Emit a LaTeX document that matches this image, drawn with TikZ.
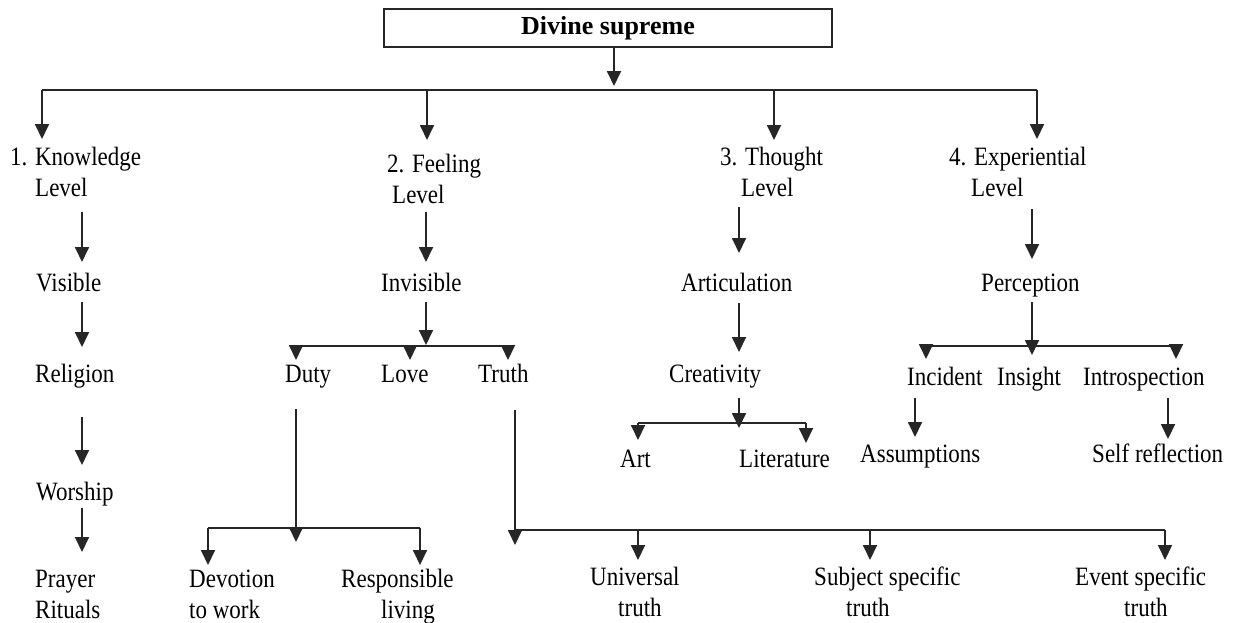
\documentclass[tikz,border=0pt]{standalone}
\usepackage{fontspec}
\setmainfont{Liberation Serif}
\usetikzlibrary{arrows.meta}
\newcommand\lbl[1]{\scalebox{1}[1.15]{\begin{tabular}[t]{@{}l@{}}#1\end{tabular}}}
\tikzset{
  arr/.style={line width=1.8pt, draw=black!85, -{Triangle[length=15pt,width=14pt]}},
  ln/.style={line width=1.8pt, draw=black!85},
  lab/.style={anchor=base west, inner sep=0pt, font=\fontsize{23}{27}\selectfont},
  topbox/.style={draw=black!85, line width=1.8pt, minimum width=448pt, minimum height=38pt, inner sep=0pt, font=\bfseries\fontsize{26}{30}\selectfont}
}
\begin{document}
\begin{tikzpicture}[x=1pt,y=-1pt]
\useasboundingbox[fill=white] (0,0) rectangle (1233,622);

% nodes
\node[topbox] (top) at (608,28) {Divine supreme};
\node[lab] (kl) at (10,165) {\lbl{1. Knowledge\\\hspace*{25pt}Level}};
\node[lab] (fl) at (387,172) {\lbl{2. Feeling\\\hspace*{5pt}Level}};
\node[lab] (tl) at (720,165) {\lbl{3. Thought\\\hspace*{21pt}Level}};
\node[lab] (el) at (949,165) {\lbl{4. Experiential\\\hspace*{22pt}Level}};
\node[lab] (vis) at (36,291) {\lbl{Visible}};
\node[lab] (inv) at (381,291) {\lbl{Invisible}};
\node[lab] (artic) at (681,291) {\lbl{Articulation}};
\node[lab] (per) at (981,291) {\lbl{Perception}};
\node[lab] (rel) at (35,382) {\lbl{Religion}};
\node[lab] (duty) at (285,382) {\lbl{Duty}};
\node[lab] (love) at (381,382) {\lbl{Love}};
\node[lab] (truth) at (478,382) {\lbl{Truth}};
\node[lab] (cre) at (669,382) {\lbl{Creativity}};
\node[lab] (inc) at (907,385) {\lbl{Incident}};
\node[lab] (ins) at (997,385) {\lbl{Insight}};
\node[lab] (intr) at (1083,385) {\lbl{Introspection}};
\node[lab] (wor) at (36,500) {\lbl{Worship}};
\node[lab] (artn) at (620,467) {\lbl{Art}};
\node[lab] (lit) at (739,467) {\lbl{Literature}};
\node[lab] (ass) at (860,462) {\lbl{Assumptions}};
\node[lab] (self) at (1092,462) {\lbl{Self reflection}};
\node[lab] (pr) at (35,587) {\lbl{Prayer\\Rituals}};
\node[lab] (dev) at (189,587) {\lbl{Devotion\\to work}};
\node[lab] (resp) at (341,587) {\lbl{Responsible\\\hspace*{40pt}living}};
\node[lab] (univ) at (590,585) {\lbl{Universal\\\hspace*{28pt}truth}};
\node[lab] (subj) at (814,585) {\lbl{Subject specific\\\hspace*{32pt}truth}};
\node[lab] (event) at (1075,585) {\lbl{Event specific\\\hspace*{49pt}truth}};

% junction coordinates
\coordinate (j0) at (614,90);
\coordinate (j0l) at (42,90);
\coordinate (j0r) at (1037,90);
\coordinate (jf) at (426,346);
\coordinate (jfl) at (296,346);
\coordinate (jfr) at (508,346);
\coordinate (jt) at (739,423);
\coordinate (jtl) at (638,423);
\coordinate (jtr) at (806,423);
\coordinate (je) at (1032,346);
\coordinate (jel) at (926,346);
\coordinate (jer) at (1176,346);
\coordinate (jd) at (296,528);
\coordinate (jdl) at (208,528);
\coordinate (jdr) at (420,528);
\coordinate (jtr2) at (515,530);
\coordinate (jtrr) at (1165,530);

% top level
\draw[arr] ([xshift=6pt]top.south) -- ([yshift=4pt]j0);
\draw[ln] (j0l) -- (j0r);
\draw[arr] (j0l) -- (42,139);
\draw[arr] (427,90) -- (427,140);
\draw[arr] (774,90) -- (774,140);
\draw[arr] (j0r) -- (1037,139);

% knowledge column
\draw[arr] (82,212) -- (82,262);
\draw[arr] (82,302) -- (82,347);
\draw[arr] (82,417) -- (82,465);
\draw[arr] (82,508) -- (82,552);

% feeling column
\draw[arr] (426,212) -- (426,262);
\draw[arr] (426,302) -- ([yshift=1pt]jf);
\draw[ln] (jfl) -- (jfr);
\draw[arr] (jfl) -- (296,360);
\draw[arr] (410,346) -- (410,360);
\draw[arr] (jfr) -- (508,360);

% duty branch
\draw[arr] (296,409) -- (296,542);
\draw[ln] (jdl) -- (jdr);
\draw[arr] (jdl) -- (208,565);
\draw[arr] (jdr) -- (420,565);

% truth branch
\draw[arr] (515,410) -- (515,545);
\draw[ln] (jtr2) -- (jtrr);
\draw[arr] (638,530) -- (638,560);
\draw[arr] (870,530) -- (870,560);
\draw[arr] (jtrr) -- (1165,560);

% thought column
\draw[arr] (739,207) -- (739,253);
\draw[arr] (739,303) -- (739,352);
\draw[arr] (739,398) -- (739,428);
\draw[ln] (jtl) -- (jtr);
\draw[arr] (jtl) -- (638,440);
\draw[arr] (jtr) -- (806,443);

% experiential column
\draw[arr] (1032,209) -- (1032,259);
\draw[arr] (1032,302) -- (1032,355);
\draw[ln] (jel) -- (jer);
\draw[arr] (jel) -- (926,359);
\draw[arr] (jer) -- (1176,359);
\draw[arr] (915,398) -- (915,437);
\draw[arr] (1168,398) -- (1168,439);
\end{tikzpicture}
\end{document}
